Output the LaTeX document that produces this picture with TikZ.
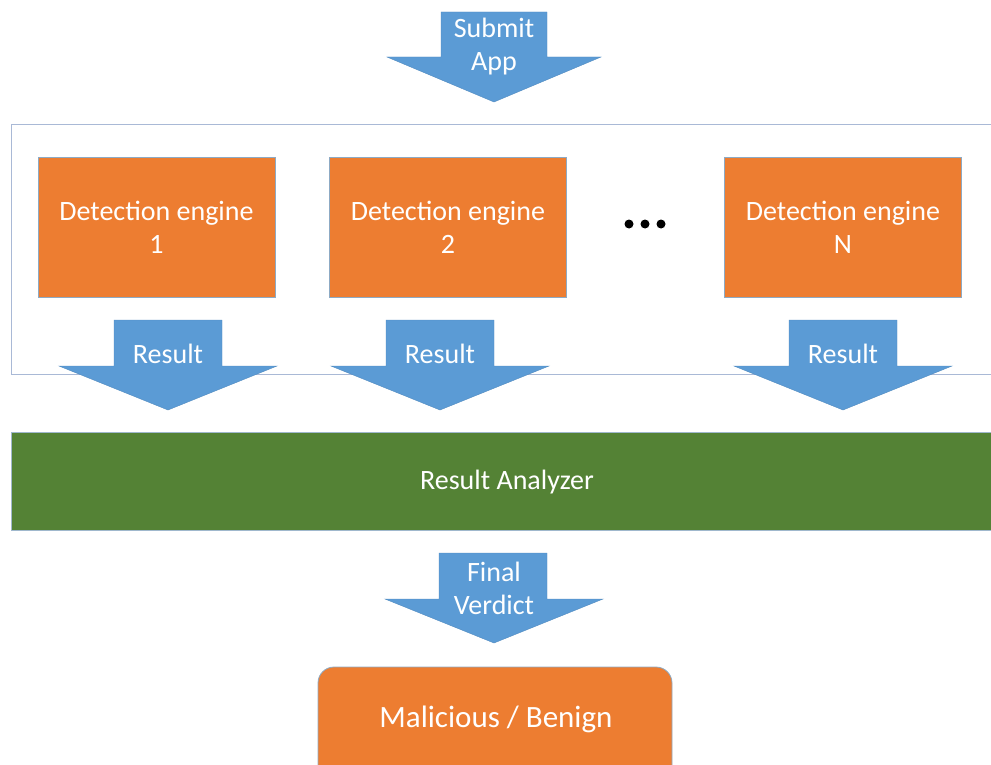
\documentclass[tikz,border=0pt]{standalone}
\usepackage{fontspec}
\setmainfont{Carlito}
\definecolor{eorange}{HTML}{ED7D31}
\definecolor{eblue}{HTML}{5B9BD5}
\definecolor{egreen}{HTML}{548235}
\definecolor{eedge}{HTML}{41719C}
\definecolor{ebox}{HTML}{A9B9D6}
\begin{document}
\begin{tikzpicture}[x=1pt,y=-1pt,
  engine/.style={fill=eorange,draw=eedge!60,line width=0.6pt,minimum width=237pt,minimum height=140pt,
    text=white,font=\fontsize{28}{33}\selectfont,align=center,inner sep=0pt},
  blockarrow/.style={fill=eblue,draw=eblue!90!black,line width=0.4pt},
  arrowtext/.style={text=white,font=\fontsize{28}{33}\selectfont,align=center,inner sep=0pt},
  dot/.style={circle,fill=black,minimum size=9pt,inner sep=0pt}]
\useasboundingbox (0,0) rectangle (991,765);
\clip (0,0) rectangle (991,765);
% container
\draw[ebox,line width=1pt] (11,125) rectangle (1000,374);
% submit arrow
\draw[blockarrow] (441,12) -- (547,12) -- (547,57) -- (601,57) -- (494,102) -- (387,57) -- (441,57) -- cycle;
\node[arrowtext] (submit) at (494,47) {Submit\\App};
% engines
\node[engine] (e1) at (156.5,227) {Detection engine\\1};
\node[engine] (e2) at (448,227) {Detection engine\\2};
\node[engine] (eN) at (843,227) {Detection engine\\N};
\node[dot] (d1) at (629,224) {};
\node[dot] (d2) at (645,224) {};
\node[dot] (d3) at (661,224) {};
% result arrows
\foreach \cx/\nm in {168/r1,440/r2,843/rN}{
  \draw[blockarrow] (\cx-54,320) -- (\cx+54,320) -- (\cx+54,366) -- (\cx+109,366) -- (\cx,410) -- (\cx-109,366) -- (\cx-54,366) -- cycle;
  \node[arrowtext] (\nm) at (\cx,354) {Result};
}
% result analyzer
\node[fill=egreen,draw=eedge!50,line width=0.6pt,minimum width=990pt,minimum height=98pt,anchor=north west,inner sep=0pt] (ra) at (11,432) {};
\node[text=white,font=\fontsize{28}{33}\selectfont] (ratext) at (507,482) {Result Analyzer};
% final verdict arrow
\draw[blockarrow] (439,553) -- (547,553) -- (547,599) -- (603,599) -- (494,643) -- (385,599) -- (439,599) -- cycle;
\node[arrowtext] (fv) at (494,588) {Final\\Verdict};
% malicious / benign
\draw[fill=eorange,draw=eedge!60,line width=0.8pt,rounded corners=16pt] (318,667) rectangle (672,800);
\node[text=white,font=\fontsize{31}{33}\selectfont] (mb) at (496,719) {Malicious / Benign};
\end{tikzpicture}
\end{document}
